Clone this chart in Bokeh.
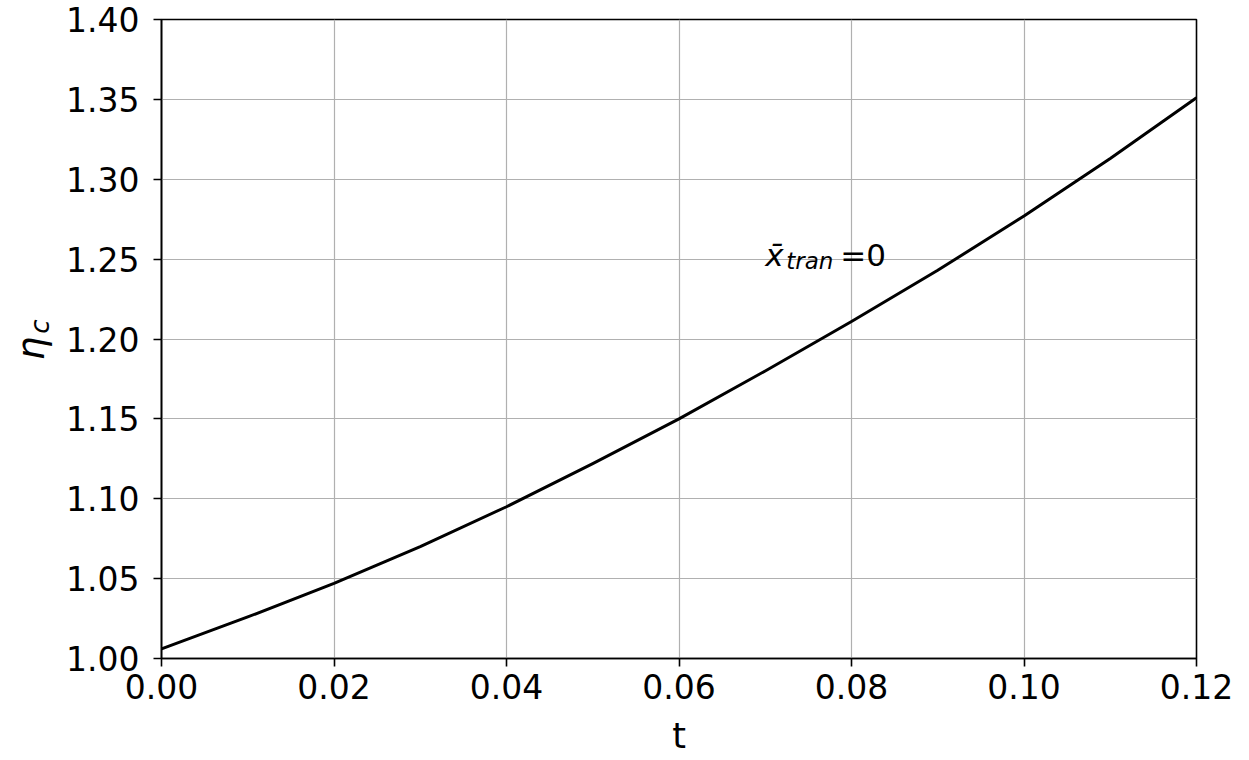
from bokeh.plotting import figure
from bokeh.models import Label, Range1d, FixedTicker, LinearAxis
from bokeh.embed import file_html
from bokeh.resources import INLINE

t_values = [0.00, 0.01, 0.02, 0.03, 0.04, 0.05, 0.06, 0.07, 0.08, 0.09, 0.10, 0.11, 0.12]
eta_c = [1.006, 1.026, 1.047, 1.070, 1.095, 1.122, 1.150, 1.180, 1.211, 1.243, 1.277, 1.313, 1.351]
x_ticks = [0.00, 0.02, 0.04, 0.06, 0.08, 0.10, 0.12]
y_ticks = [1.00, 1.05, 1.10, 1.15, 1.20, 1.25, 1.30, 1.35, 1.40]
annot_main = "x\u0304"
annot_sub = "tran"
annot_tail = "=0"
ylabel_main = "\u03b7"
ylabel_sub = "c"

FONT = "DejaVu Sans"
NBSP = "\u00a0"
THIN = "\u2009"

p = figure(width=1249, height=758, output_backend="svg", toolbar_location=None,
           x_range=Range1d(0.0, 0.12), y_range=Range1d(1.0, 1.4),
           min_border_left=161, min_border_right=53, min_border_top=19, min_border_bottom=97)
p.background_fill_color = "white"
p.border_fill_color = "white"
p.outline_line_color = "black"
p.outline_line_width = 1.6

p.line(t_values, eta_c, line_color="black", line_width=3, line_join="round")

for ax in (p.xaxis[0], p.yaxis[0]):
    ax.axis_line_color = "black"
    ax.axis_line_width = 1.6
    ax.major_tick_line_color = "black"
    ax.major_tick_line_width = 1.6
    ax.major_tick_out = 8
    ax.major_tick_in = 0
    ax.minor_tick_line_color = None
    ax.major_label_text_font = FONT
    ax.major_label_text_font_size = "33px"
    ax.major_label_text_color = "black"

p.xaxis.ticker = FixedTicker(ticks=x_ticks)
p.yaxis.ticker = FixedTicker(ticks=y_ticks)
p.xaxis.major_label_overrides = {v: f"{v:.2f}" for v in x_ticks}
p.yaxis.major_label_overrides = {v: f"{v:.2f}" for v in y_ticks}
p.xaxis.major_label_standoff = 7
p.yaxis.major_label_standoff = 14

p.xaxis.axis_label = "t"
p.xaxis.axis_label_text_font = FONT
p.xaxis.axis_label_text_font_size = "35px"
p.xaxis.axis_label_text_font_style = "normal"
p.xaxis.axis_label_text_color = "black"
p.xaxis.axis_label_standoff = 14

# subscript "c" of eta_c on the tick axis (inner), shifted up with no-break spaces
p.yaxis.axis_label = NBSP * 3 + ylabel_sub
p.yaxis.axis_label_text_font = FONT
p.yaxis.axis_label_text_font_size = "26px"
p.yaxis.axis_label_text_font_style = "italic"
p.yaxis.axis_label_text_color = "black"
p.yaxis.axis_label_standoff = 8

# main symbol eta on an outer, otherwise empty axis, shifted down slightly
eta_axis = LinearAxis(ticker=FixedTicker(ticks=[]), axis_line_color=None,
                      major_tick_line_color=None, minor_tick_line_color=None,
                      major_tick_out=0, major_tick_in=0, major_label_standoff=0,
                      axis_label=ylabel_main + NBSP + THIN, axis_label_text_font=FONT,
                      axis_label_text_font_size="37px", axis_label_text_font_style="italic",
                      axis_label_text_color="black", axis_label_standoff=-30)
p.add_layout(eta_axis, "left")

p.grid.grid_line_color = "#b0b0b0"
p.grid.grid_line_width = 1.2

# annotation x̄_tran = 0
ax0, ay0 = 0.0700, 1.2523
p.add_layout(Label(x=ax0, y=ay0, text=annot_main, text_align="left", text_baseline="alphabetic",
                   text_font=FONT, text_font_size="31px", text_font_style="italic",
                   text_color="black"))
p.add_layout(Label(x=ax0, y=ay0, x_offset=21, y_offset=-6, text=annot_sub, text_align="left",
                   text_baseline="alphabetic", text_font=FONT, text_font_size="23px",
                   text_font_style="italic", text_color="black"))
p.add_layout(Label(x=ax0, y=ay0, x_offset=75, text=annot_tail, text_align="left",
                   text_baseline="alphabetic", text_font=FONT, text_font_size="31px",
                   text_color="black"))

open("out.html", "w").write(file_html(p, INLINE))
